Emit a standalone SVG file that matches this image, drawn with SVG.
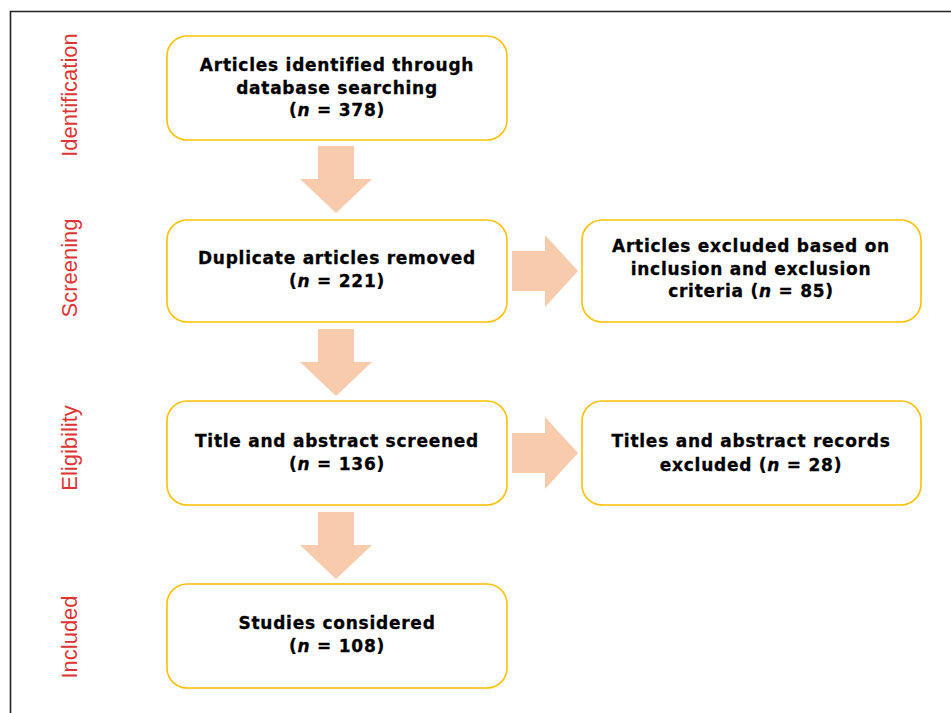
<svg xmlns="http://www.w3.org/2000/svg" width="951" height="713" viewBox="0 0 951 713">
<style>
.box{fill:#fff;stroke:#FFC000;stroke-width:1.6}
.t{font-family:"DejaVu Sans","Liberation Sans",Arial,sans-serif;font-weight:bold;font-size:17px;fill:#000;stroke:#000;stroke-width:0.3;text-anchor:middle;letter-spacing:0.75px}
.lab{font-family:"Liberation Sans",Arial,sans-serif;font-size:22px;fill:#DC3535;text-anchor:middle}
.arr{fill:#F8CBAD}
</style>
<rect x="0" y="0" width="951" height="713" fill="#fff"/>
<path d="M10.5 713 V11.5 H951" fill="none" stroke="#222" stroke-width="1.6"/>
<g id="labels">
<text class="lab" transform="translate(77,95) rotate(-90)">Identification</text>
<text class="lab" transform="translate(77,268) rotate(-90)">Screening</text>
<text class="lab" transform="translate(77,448) rotate(-90)">Eligibility</text>
<text class="lab" transform="translate(77,637) rotate(-90)">Included</text>
</g>
<g id="connectors">
<polygon class="arr" points="318,146 354,146 354,179 372,179 336,213 300,179 318,179"/>
<polygon class="arr" points="318,329 354,329 354,362 372,362 336,396 300,362 318,362"/>
<polygon class="arr" points="318,512 354,512 354,545 372,545 336,579 300,545 318,545"/>
<polygon class="arr" points="512,251 545,251 545,235 578,271 545,307 545,291 512,291"/>
<polygon class="arr" points="512,433 545,433 545,417 578,453 545,489 545,473 512,473"/>
</g>
<g id="n1">
<rect class="box" x="167" y="36" width="340" height="104" rx="20"/>
<text class="t" x="337" y="71">Articles identified through</text>
<text class="t" x="337" y="94">database searching</text>
<text class="t" x="337" y="116">(<tspan font-style="italic">n</tspan> = 378)</text>
</g>
<g id="n2">
<rect class="box" x="167" y="220" width="340" height="102" rx="20"/>
<text class="t" x="337" y="264">Duplicate articles removed</text>
<text class="t" x="337" y="287">(<tspan font-style="italic">n</tspan> = 221)</text>
</g>
<g id="n3">
<rect class="box" x="582" y="220" width="339" height="102" rx="20"/>
<text class="t" x="751" y="252">Articles excluded based on</text>
<text class="t" x="751" y="275">inclusion and exclusion</text>
<text class="t" x="751" y="297">criteria (<tspan font-style="italic">n</tspan> = 85)</text>
</g>
<g id="n4">
<rect class="box" x="167" y="401" width="340" height="104" rx="20"/>
<text class="t" x="337" y="447">Title and abstract screened</text>
<text class="t" x="337" y="470">(<tspan font-style="italic">n</tspan> = 136)</text>
</g>
<g id="n5">
<rect class="box" x="582" y="401" width="339" height="104" rx="20"/>
<text class="t" x="751" y="447">Titles and abstract records</text>
<text class="t" x="751" y="471">excluded (<tspan font-style="italic">n</tspan> = 28)</text>
</g>
<g id="n6">
<rect class="box" x="167" y="584" width="340" height="104" rx="20"/>
<text class="t" x="337" y="629">Studies considered</text>
<text class="t" x="337" y="652">(<tspan font-style="italic">n</tspan> = 108)</text>
</g>
</svg>
